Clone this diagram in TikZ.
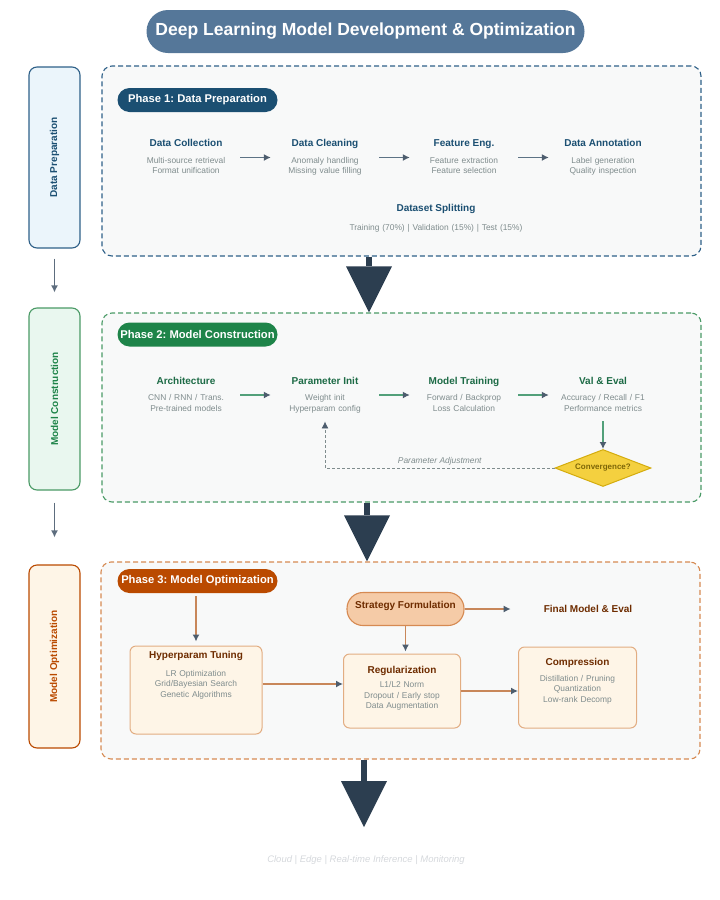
\documentclass[tikz,border=0pt]{standalone}
\usepackage{fontspec}
\setmainfont{Liberation Sans}
\usetikzlibrary{arrows.meta,shapes.geometric,positioning}

\definecolor{titlebg}{HTML}{557799}
\definecolor{navy}{HTML}{2C3E50}
\definecolor{headgray}{HTML}{4D5D6E}
\definecolor{blueD}{HTML}{1B4F72}
\definecolor{blueL}{HTML}{EBF5FB}
\definecolor{blueB}{HTML}{2E6088}
\definecolor{blueA}{HTML}{5D7385}
\definecolor{greenD}{HTML}{1E8449}
\definecolor{greenT}{HTML}{1D6B46}
\definecolor{greenL}{HTML}{E9F7EF}
\definecolor{greenB}{HTML}{4A9A66}
\definecolor{greenA}{HTML}{52A07A}
\definecolor{orangeD}{HTML}{BA4A00}
\definecolor{orangeT}{HTML}{6E2C00}
\definecolor{orangeL}{HTML}{FEF5E7}
\definecolor{orangeB}{HTML}{D68A52}
\definecolor{orangeA}{HTML}{C8875A}
\definecolor{boxB}{HTML}{E2AD82}
\definecolor{stratF}{HTML}{F5CBA7}
\definecolor{panelbg}{HTML}{F8F9F9}
\definecolor{subgray}{HTML}{7F8C8D}
\definecolor{sidegray}{HTML}{5D6D7E}
\definecolor{convF}{HTML}{F4D03F}
\definecolor{convB}{HTML}{D4AC0D}
\definecolor{convT}{HTML}{7D6608}
\definecolor{footgray}{HTML}{D5D8DC}

\frenchspacing

% title line + gray lines of one step
\newcommand{\stepbody}[4][6pt]{{\color{#2}\fontsize{10}{12}\selectfont\bfseries #3\strut}\\[#1]#4\strut}

\begin{document}
\begin{tikzpicture}[x=1pt,y=-1pt,
    every node/.style={inner sep=0pt},
    panel/.style={draw, dash pattern=on 5pt off 3pt, line width=1.1pt, rounded corners=10pt, fill=panelbg},
    sidebox/.style={draw, line width=1.1pt, rounded corners=8pt, minimum width=51pt, font=\fontsize{10}{12}\selectfont\bfseries},
    phasetag/.style={rounded corners=12pt, minimum width=160pt, minimum height=24pt, text=white, font=\fontsize{11.2}{13}\selectfont\bfseries},
    stepnode/.style={text width=110pt, align=center, text=subgray, font=\fontsize{8.4}{10.5}\selectfont},
    optbox/.style={draw=boxB, fill=orangeL, line width=1pt, rounded corners=6pt},
    flow/.style={line width=1.3pt, -{Latex[length=7pt,width=7pt,color=headgray]}},
    sideflow/.style={sidegray, line width=1.5pt, -{Latex[length=7pt,width=7pt]}},
    bigarrow/.style={navy, line width=6pt, -{Triangle[length=46pt,width=46pt,line width=0pt]}}]

\useasboundingbox (0,0) rectangle (720,900);

% Title
\node[fill=titlebg, rounded corners=21.5pt, minimum width=438pt, minimum height=43pt, text=white,
      font=\fontsize{17.5}{21}\selectfont\bfseries] (title) at (365.5,31.5)
      {Deep Learning Model Development \& Optimization};

% Side stages
\node[sidebox, draw=blueB, fill=blueL, text=blueD, minimum height=181pt] (sd1) at (54.5,157.5)
      {\rotatebox{90}{Data Preparation}};
\node[sidebox, draw=greenB, fill=greenL, text=greenD, minimum height=182pt] (sd2) at (54.5,399)
      {\rotatebox{90}{Model Construction}};
\node[sidebox, draw=orangeD, fill=orangeL, text=orangeD, minimum height=183pt] (sd3) at (54.5,656.5)
      {\rotatebox{90}{Model Optimization}};
\draw[sideflow, shorten <=10pt, shorten >=15pt] (sd1.south) -- (sd2.north);
\draw[sideflow, shorten <=12pt, shorten >=27pt] (sd2.south) -- (sd3.north);

% Panels
\node[panel, draw=blueB, minimum width=599pt, minimum height=190pt] (p1) at (401.5,161) {};
\node[panel, draw=greenB, minimum width=599pt, minimum height=189pt] (p2) at (401.5,407.5) {};
\node[panel, draw=orangeB, minimum width=599pt, minimum height=197pt] (p3) at (400.5,660.5) {};

% Phase 1
\node[phasetag, fill=blueD] (t1) at (197.5,100) {Phase 1: Data Preparation};
\node[stepnode] (dcol) at (186,157.5) {\stepbody{blueD}{Data Collection}{Multi-source retrieval\\Format unification}};
\node[stepnode] (dcln) at (325,157.5) {\stepbody{blueD}{Data Cleaning}{Anomaly handling\\Missing value filling}};
\node[stepnode] (feat) at (464,157.5) {\stepbody{blueD}{Feature Eng.}{Feature extraction\\Feature selection}};
\node[stepnode] (anno) at (603,157.5) {\stepbody{blueD}{Data Annotation}{Label generation\\Quality inspection}};
\node[stepnode, text width=220pt] (split) at (436,218.5)
      {\stepbody[7pt]{blueD}{Dataset Splitting}{Training (70\%) | Validation (15\%) | Test (15\%)}};
\draw[flow, blueA, shorten <=-1pt, shorten >=-1pt] (dcol) -- (dcln);
\draw[flow, blueA, shorten <=-1pt, shorten >=-1pt] (dcln) -- (feat);
\draw[flow, blueA, shorten <=-1pt, shorten >=-1pt] (feat) -- (anno);

% Phase 2
\node[phasetag, fill=greenD] (t2) at (197.5,334.5) {Phase 2: Model Construction};
\node[stepnode] (arch) at (186,395) {\stepbody{greenT}{Architecture}{CNN / RNN / Trans.\\Pre-trained models}};
\node[stepnode] (pinit) at (325,395) {\stepbody{greenT}{Parameter Init}{Weight init\\Hyperparam config}};
\node[stepnode] (train) at (464,395) {\stepbody{greenT}{Model Training}{Forward / Backprop\\Loss Calculation}};
\node[stepnode] (val) at (603,395) {\stepbody{greenT}{Val \& Eval}{Accuracy / Recall / F1\\Performance metrics}};
\node[diamond, aspect=2.6, draw=convB, fill=convF, line width=1pt, minimum width=96pt, minimum height=37pt,
      text=convT, font=\fontsize{8}{10}\selectfont\bfseries] (conv) at (603,468) {Convergence?};
\draw[flow, greenA, shorten <=-1pt, shorten >=-1pt] (arch) -- (pinit);
\draw[flow, greenA, shorten <=-1pt, shorten >=-1pt] (pinit) -- (train);
\draw[flow, greenA, shorten <=-1pt, shorten >=-1pt] (train) -- (val);
\draw[flow, greenA, shorten <=7pt] (val.south) -- (conv.north);
\draw[flow, subgray, line width=0.9pt, dash pattern=on 3pt off 2pt, shorten >=7pt] (conv.west) -| (pinit.south)
      node[pos=0.25, above=2pt, text=subgray, font=\fontsize{8.4}{10}\selectfont\itshape] (adj) {Parameter Adjustment};

% Phase 3
\node[phasetag, fill=orangeD] (t3) at (197.5,581) {Phase 3: Model Optimization};
\node[optbox, minimum width=132pt, minimum height=88pt] (hp) at (196,690) {};
\node[stepnode, anchor=north, below=4pt of hp.north] (hpt)
      {\stepbody[7.5pt]{orangeT}{Hyperparam Tuning}{LR Optimization\\Grid/Bayesian Search\\Genetic Algorithms}};
\node[optbox, minimum width=117pt, minimum height=74pt] (reg) at (402,691) {};
\node[stepnode, anchor=north, below=11pt of reg.north] (regt)
      {\stepbody[4pt]{orangeT}{Regularization}{L1/L2 Norm\\Dropout / Early stop\\Data Augmentation}};
\node[optbox, minimum width=118pt, minimum height=81pt] (comp) at (577.5,687.5) {};
\node[stepnode, anchor=north, below=10pt of comp.north] (compt)
      {\stepbody[5.5pt]{orangeT}{Compression}{Distillation / Pruning\\Quantization\\Low-rank Decomp}};
\node[draw=orangeB, fill=stratF, line width=1.1pt, rounded corners=16pt, minimum width=117pt, minimum height=33pt,
      text depth=8pt, text=orangeT, font=\fontsize{10}{12}\selectfont\bfseries] (strat) at (405.5,609) {Strategy Formulation};
\node[text=orangeT, font=\fontsize{10}{12}\selectfont\bfseries] (final) at (588,609) {Final Model \& Eval};
\draw[flow, orangeA, shorten <=3pt, shorten >=4pt] (t3.south -| hp.north) -- (hp.north);
\draw[flow, orangeA, shorten >=2pt] (strat.south) -- (strat.south |- reg.north);
\draw[flow, orangeA, shorten >=33pt] (strat.east) -- (final.west);
\draw[flow, orangeA] ([yshift=6pt]hp.east) -- ([yshift=6pt]hp.east -| reg.west);
\draw[flow, orangeA] (reg.east) -- (reg.east -| comp.west);

% Big arrows between phases
\coordinate (bx1) at (369,0);
\coordinate (bx2) at (367,0);
\coordinate (bend) at (364,827);
\draw[bigarrow] (p1.south -| bx1) -- (p2.north -| bx1);
\draw[bigarrow] (p2.south -| bx2) -- (p3.north -| bx2);
\draw[bigarrow] (p3.south -| bend) -- (bend);

% Deployment
\node[text=footgray, font=\fontsize{9.5}{11}\selectfont\itshape] (deploy) at (366,860)
      {Cloud | Edge | Real-time Inference | Monitoring};
\end{tikzpicture}
\end{document}
